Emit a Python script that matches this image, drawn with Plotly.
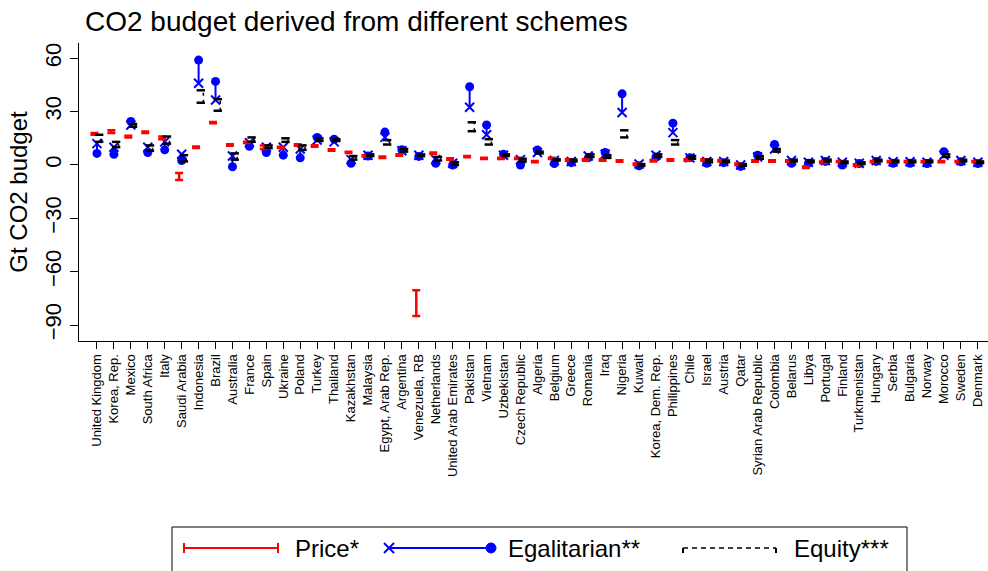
import plotly.graph_objects as go

countries = [
    "United Kingdom", "Korea, Rep.", "Mexico", "South Africa", "Italy", "Saudi Arabia",
    "Indonesia", "Brazil", "Australia", "France", "Spain", "Ukraine", "Poland", "Turkey",
    "Thailand", "Kazakhstan", "Malaysia", "Egypt, Arab Rep.", "Argentina", "Venezuela, RB",
    "Netherlands", "United Arab Emirates", "Pakistan", "Vietnam", "Uzbekistan",
    "Czech Republic", "Algeria", "Belgium", "Greece", "Romania", "Iraq", "Nigeria",
    "Kuwait", "Korea, Dem. Rep.", "Philippines", "Chile", "Israel", "Austria", "Qatar",
    "Syrian Arab Republic", "Colombia", "Belarus", "Libya", "Portugal", "Finland",
    "Turkmenistan", "Hungary", "Serbia", "Bulgaria", "Norway", "Morocco", "Sweden", "Denmark",
]

# price scheme range (low / high)
price_lo = [17, 18, 15.5, 18, 14.5, -8.5, 9.6, 23.4, 10.8, 12.3, 9, 9.5, 10.8, 10.3,
            8, 6.7, 4.7, 3.9, 5.2, -85, 6.2, 3, 4.3, 3.3, 3.3, 3.3, 1.5, 3.3, 2.4, 2.4,
            2.4, 1.8, 0, 2, 2.4, 2.4, 2.4, 2, 0, 1.8, 1.8, 1.8, -1.7, 1.1, 1.5, -0.4,
            1.5, 1.5, 1.5, 1.5, 1.5, 1.5, 1.5]
price_hi = [18, 19.5, 16.5, 18.8, 16, -4.5, 10.4, 24.2, 11.6, 13.1, 11, 10.3, 11.6, 11.1,
            8.8, 7.5, 5.5, 4.7, 6, -70.5, 7, 3.8, 5.1, 4.1, 4.1, 4.1, 2.3, 4.1, 3.2, 3.2,
            3.2, 2.6, 0.8, 2.8, 3.2, 3.2, 3.2, 2.8, 0.8, 2.6, 2.6, 2.6, -0.9, 1.9, 2.3, 0.4,
            2.3, 2.3, 2.3, 2.3, 2.3, 2.3, 2.3]

# egalitarian scheme: cross value and dot value
egal_cross = [12, 10, 22.5, 10, 13, 6, 46, 36.5, 5, 12.5, 10, 10, 9, 14,
              13, 3, 5.5, 15.5, 8, 5.5, 3, 1, 32.5, 17, 5.5, 3, 7, 2.5, 2, 5,
              6, 29.5, 0.5, 5.5, 18.2, 4, 2, 2, 0, 4.5, 9, 2.5, 1.5, 2.5, 1.5, 1,
              2.5, 1.8, 1.8, 1.5, 5.5, 2.5, 1.5]
egal_dot = [6.5, 6, 24.5, 7, 8.5, 2.5, 59, 47, -1, 10.5, 7, 5.5, 4, 15.5,
            14.5, 1, 5, 18.5, 8.5, 4.8, 1, 0, 44, 22.5, 6, 0, 8.4, 0.8, 1.3, 4,
            7, 40, -0.5, 4.5, 23.5, 4, 1, 1.3, -0.8, 5.5, 11.5, 1, 1, 2, 0, 0.8,
            2, 1, 1, 0.8, 7.5, 1.8, 0.8]

# equity scheme range (low / high)
equity_lo = [13, 10, 21.5, 8, 12, 2, 35, 30.5, 3, 13, 9.5, 13, 8.5, 13.5,
             13.5, 3, 5, 11.5, 7.5, 5, 2.5, 0, 19, 11.5, 5, 2, 6.5, 2.5, 2, 4.5,
             4, 15.5, -0.5, 4.5, 11.5, 3.5, 1.5, 1.5, -0.5, 3.5, 7.5, 2, 1.5, 2, 1, 0.5,
             2, 1.5, 1.5, 1.5, 4.5, 2, 1]
equity_hi = [17, 13, 23, 11, 16, 5.5, 42, 37, 6.5, 15.5, 11, 15, 11, 15,
             14.5, 5, 6, 14, 9, 6, 4.5, 1.5, 24, 14.5, 6, 3.5, 7.5, 3.2, 3, 6,
             5.5, 19.5, 0.5, 6, 14, 5, 3, 2.5, 0.5, 5, 9, 3, 2.5, 3, 2, 1.5,
             3, 2.5, 2.5, 2.5, 6, 3, 2]

y_ticks = [-90, -60, -30, 0, 30, 60]

FONT = "Liberation Sans, Arial, sans-serif"
idx = list(range(len(countries)))

fig = go.Figure()

# egalitarian: line from cross to dot
seg_x, seg_y = [], []
for i in idx:
    seg_x += [i, i, None]
    seg_y += [egal_cross[i], egal_dot[i], None]
fig.add_trace(go.Scatter(x=seg_x, y=seg_y, mode="lines",
                         line=dict(color="blue", width=2), showlegend=False))
fig.add_trace(go.Scatter(x=idx, y=egal_cross, mode="markers", showlegend=False,
                         marker=dict(symbol="x-thin", size=9, line=dict(color="blue", width=2))))
fig.add_trace(go.Scatter(x=idx, y=egal_dot, mode="markers", showlegend=False,
                         marker=dict(symbol="circle", size=9, color="blue")))

# price: red error bars, shifted left
price_mid = [(a + b) / 2 for a, b in zip(price_lo, price_hi)]
fig.add_trace(go.Scatter(
    x=[i - 0.15 for i in idx], y=price_mid, mode="markers", showlegend=False,
    marker=dict(size=1, color="red"),
    error_y=dict(type="data", symmetric=False,
                 array=[h - m for h, m in zip(price_hi, price_mid)],
                 arrayminus=[m - l for m, l in zip(price_mid, price_lo)],
                 color="red", thickness=2.5, width=4),
))

# equity: dashed black bar with caps, shifted right
eq_x, eq_y = [], []
for i in idx:
    eq_x += [i + 0.28, i + 0.28, None]
    eq_y += [equity_lo[i], equity_hi[i], None]
fig.add_trace(go.Scatter(x=eq_x, y=eq_y, mode="lines", showlegend=False,
                         line=dict(color="black", width=1.5, dash="3px,4px")))
fig.add_trace(go.Scatter(
    x=[i + 0.13 for i in idx] * 2, y=equity_lo + equity_hi, mode="markers", showlegend=False,
    marker=dict(symbol="line-ew", size=6, line=dict(color="black", width=2.5)),
))

# hand drawn legend box at the bottom
def px_x(p):
    return (p - 79) / 909

def px_y(p):
    return (341 - p) / 298

ly = px_y(548)
shapes = [
    dict(type="rect", xref="paper", yref="paper", x0=px_x(172), x1=px_x(907),
         y0=px_y(527), y1=px_y(578), line=dict(color="black", width=1)),
    # price
    dict(type="line", xref="paper", yref="paper", x0=px_x(184), x1=px_x(278), y0=ly, y1=ly,
         line=dict(color="red", width=2)),
    dict(type="line", xref="paper", yref="paper", x0=px_x(184), x1=px_x(184),
         y0=px_y(543), y1=px_y(553), line=dict(color="red", width=2)),
    dict(type="line", xref="paper", yref="paper", x0=px_x(278), x1=px_x(278),
         y0=px_y(543), y1=px_y(553), line=dict(color="red", width=2)),
    # egalitarian
    dict(type="line", xref="paper", yref="paper", x0=px_x(389), x1=px_x(491), y0=ly, y1=ly,
         line=dict(color="blue", width=2)),
    dict(type="line", xref="paper", yref="paper", x0=px_x(384), x1=px_x(394),
         y0=px_y(543), y1=px_y(553), line=dict(color="blue", width=2)),
    dict(type="line", xref="paper", yref="paper", x0=px_x(384), x1=px_x(394),
         y0=px_y(553), y1=px_y(543), line=dict(color="blue", width=2)),
    dict(type="circle", xref="paper", yref="paper", x0=px_x(486), x1=px_x(496),
         y0=px_y(543), y1=px_y(553), fillcolor="blue", line=dict(color="blue", width=1)),
    # equity
    dict(type="line", xref="paper", yref="paper", x0=px_x(683), x1=px_x(776), y0=ly, y1=ly,
         line=dict(color="black", width=1.5, dash="5px,4px")),
    dict(type="line", xref="paper", yref="paper", x0=px_x(683), x1=px_x(683),
         y0=ly, y1=px_y(553), line=dict(color="black", width=2)),
    dict(type="line", xref="paper", yref="paper", x0=px_x(776), x1=px_x(776),
         y0=ly, y1=px_y(553), line=dict(color="black", width=2)),
]
legend_labels = [("Price*", 293), ("Egalitarian**", 506), ("Equity***", 792)]
annotations = [
    dict(text=t, xref="paper", yref="paper", x=px_x(p), y=ly, xanchor="left",
         yanchor="middle", showarrow=False, font=dict(size=24, color="black", family=FONT))
    for t, p in legend_labels
]

fig.update_layout(
    width=988, height=571,
    margin=dict(l=79, r=0, t=43, b=230),
    paper_bgcolor="white", plot_bgcolor="white",
    font=dict(family=FONT, color="black"),
    title=dict(text="CO2 budget derived from different schemes", x=85 / 988, xanchor="left",
               y=1 - 21 / 571, yanchor="middle", font=dict(size=28, family=FONT, color="black")),
    showlegend=False,
    shapes=shapes,
    annotations=annotations,
    xaxis=dict(
        range=[-1.06, 52.6], tickmode="array", tickvals=idx, ticktext=countries,
        tickangle=-90, tickfont=dict(size=13), ticks="outside", ticklen=7,
        tickcolor="black", showline=True, linecolor="black", linewidth=1,
        showgrid=False, zeroline=False, automargin=False,
    ),
    yaxis=dict(
        range=[-99, 68.6], tickmode="array", tickvals=y_ticks, tickangle=-90,
        tickfont=dict(size=22), ticks="outside", ticklen=8, tickcolor="black",
        showline=True, linecolor="black", linewidth=1, showgrid=False, zeroline=False,
        automargin=False,
        title=dict(text="Gt CO2 budget", font=dict(size=24), standoff=6),
    ),
)

# page body has a default margin; drop it so the figure sits at the window corner
fig.write_html("out.html", config={"displayModeBar": False},
               post_script="document.body.style.margin='0';")
